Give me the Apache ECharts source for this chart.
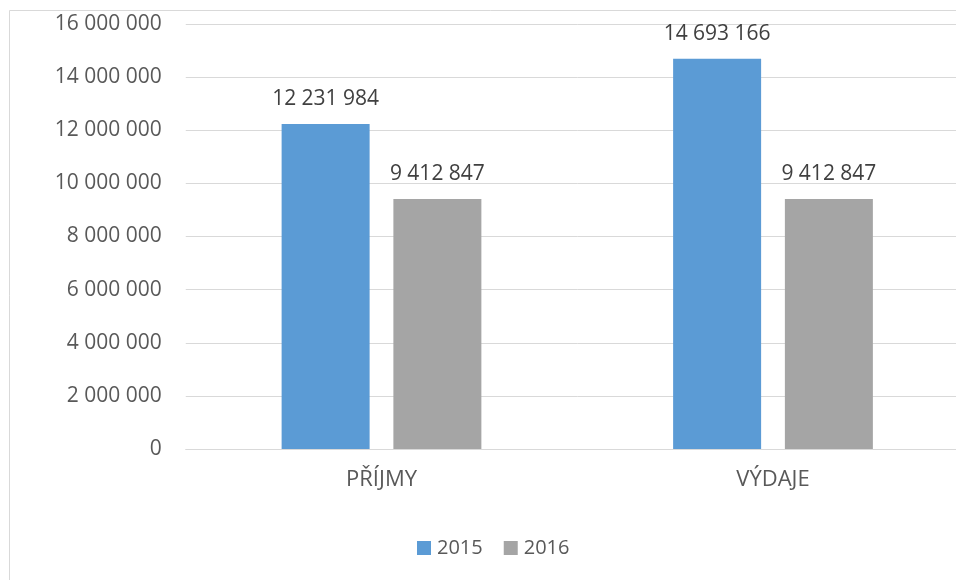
<!DOCTYPE html>
<html>
<head>
<meta charset="utf-8">
<script src="https://cdn.jsdelivr.net/npm/echarts@6/dist/echarts.min.js"></script>
<style>
html,body{margin:0;padding:0;background:#fff;overflow:hidden;width:956px;height:580px;}
#chart{width:970px;height:580px;}
</style>
</head>
<body>
<div id="chart"></div>
<script>
const categories = ['PŘÍJMY', 'VÝDAJE'];
const seriesNames = ['2015', '2016'];
const values2015 = [12231984, 14693166];
const values2016 = [9412847, 9412847];
const yTicks = [0, 2000000, 4000000, 6000000, 8000000, 10000000, 12000000, 14000000, 16000000];

function fmt(v) {
  return String(Math.round(v)).replace(/\B(?=(\d{3})+(?!\d))/g, ' ');
}

const FONT = '"Open Sans", sans-serif';
const TXT = '#595959';

const chart = echarts.init(document.getElementById('chart'), null, {renderer: 'canvas'});
const labelCfg = {
  show: true,
  position: 'top',
  distance: 14,
  color: '#404040',
  fontFamily: FONT,
  fontSize: 21,
  lineHeight: 22,
  formatter: p => fmt(p.value)
};
chart.setOption({
  animation: false,
  backgroundColor: '#ffffff',
  graphic: [{
    type: 'rect',
    shape: {x: 9.5, y: 10.5, width: 1200, height: 1000},
    style: {fill: 'none', stroke: '#d9d9d9', lineWidth: 1},
    silent: true,
    z: -10
  }],
  grid: {left: 185.75, right: 1.25, top: 24, bottom: 131, containLabel: false},
  legend: {
    data: seriesNames,
    left: 412,
    top: 533,
    itemWidth: 14,
    itemHeight: 14,
    itemGap: 21,
    icon: 'rect',
    textStyle: {color: TXT, fontFamily: FONT, fontSize: 20, padding: [0, 0, 0, 1]}
  },
  xAxis: {
    type: 'category',
    data: categories,
    axisLine: {lineStyle: {color: '#d9d9d9', width: 1}},
    axisTick: {show: false},
    axisLabel: {color: TXT, fontFamily: FONT, fontSize: 22, margin: 20, lineHeight: 22}
  },
  yAxis: {
    type: 'value',
    min: yTicks[0],
    max: yTicks[yTicks.length - 1],
    interval: yTicks[1] - yTicks[0],
    axisLine: {show: false},
    axisTick: {show: false},
    splitLine: {lineStyle: {color: '#d9d9d9', width: 1}},
    axisLabel: {color: TXT, fontFamily: FONT, fontSize: 21, margin: 24, formatter: v => fmt(v)}
  },
  series: [
    {
      name: seriesNames[0],
      type: 'bar',
      data: values2015,
      barWidth: 88,
      barGap: '27%',
      itemStyle: {color: '#5B9BD5'},
      label: labelCfg
    },
    {
      name: seriesNames[1],
      type: 'bar',
      data: values2016,
      barWidth: 88,
      barGap: '27%',
      itemStyle: {color: '#A5A5A5'},
      label: labelCfg
    }
  ]
});
</script>
</body>
</html>
